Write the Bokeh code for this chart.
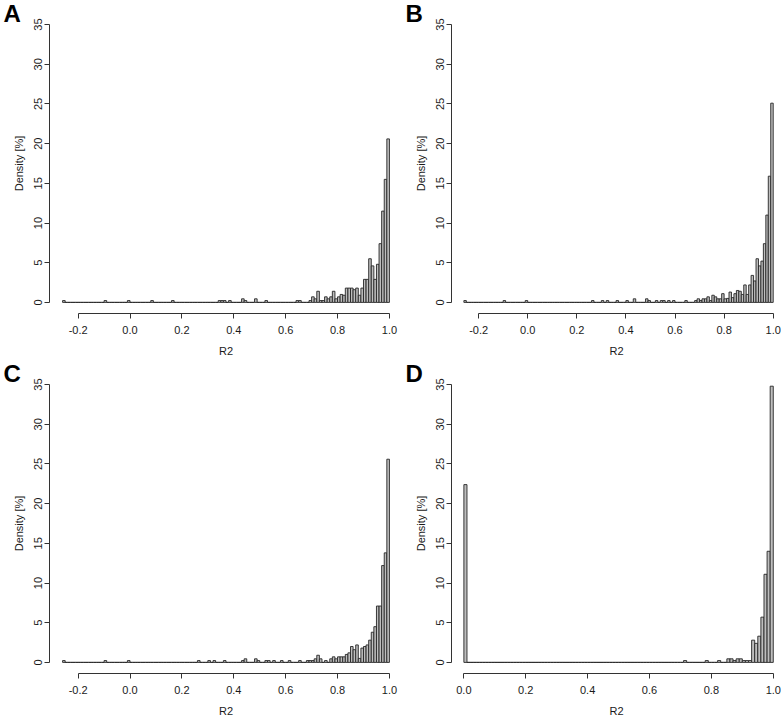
import numpy as np
from bokeh.plotting import figure
from bokeh.layouts import column, row
from bokeh.models import ColumnDataSource, FixedTicker, NumeralTickFormatter
from bokeh.embed import file_html
from bokeh.resources import INLINE

# ---------------- data (histograms of R2, bin width 0.01, density in %) ----------------
BIN = 0.01

a_start = -0.26
a_bins = [-0.26, -0.10, -0.01, 0.08, 0.16, 0.34, 0.35, 0.36, 0.38, 0.43, 0.44, 0.48, 0.52, 0.64, 0.65,
          0.69, 0.70, 0.71, 0.72, 0.73, 0.74, 0.75, 0.76, 0.77, 0.78, 0.79, 0.80, 0.81, 0.82, 0.83,
          0.84, 0.85, 0.86, 0.87, 0.88, 0.89, 0.90, 0.91, 0.92, 0.93, 0.94, 0.95, 0.96, 0.97, 0.98, 0.99]
a_pct = [0.23, 0.23, 0.23, 0.23, 0.23, 0.23, 0.23, 0.23, 0.23, 0.45, 0.23, 0.45, 0.23, 0.23, 0.23,
         0.23, 0.7, 0.45, 1.4, 0.23, 0.23, 0.7, 0.45, 0.7, 1.4, 0.45, 0.7, 1.0, 0.9, 1.8,
         1.8, 1.8, 1.6, 1.8, 0.9, 1.8, 2.9, 2.9, 5.5, 4.6, 2.9, 4.8, 7.4, 11.5, 15.5, 20.6]

b_start = -0.26
b_bins = [-0.26, -0.10, -0.01, 0.26, 0.30, 0.32, 0.36, 0.40, 0.43, 0.48, 0.49, 0.52, 0.54, 0.55, 0.57, 0.59,
          0.64, 0.68, 0.69, 0.70, 0.71, 0.72, 0.73, 0.74, 0.75, 0.76, 0.77, 0.78, 0.79, 0.80, 0.81,
          0.82, 0.83, 0.84, 0.85, 0.86, 0.87, 0.88, 0.89, 0.90, 0.91, 0.92, 0.93, 0.94, 0.95, 0.96,
          0.97, 0.98, 0.99]
b_pct = [0.23, 0.23, 0.23, 0.23, 0.23, 0.23, 0.23, 0.23, 0.45, 0.45, 0.23, 0.23, 0.23, 0.23, 0.23, 0.23,
         0.23, 0.23, 0.45, 0.23, 0.45, 0.45, 0.7, 0.23, 0.9, 0.7, 0.45, 0.45, 1.1, 0.45, 0.5,
         1.3, 0.6, 1.1, 1.5, 1.4, 1.0, 2.2, 1.0, 2.2, 3.4, 2.7, 5.5, 4.6, 5.2, 7.4,
         11.0, 15.9, 25.1]

c_start = -0.26
c_bins = [-0.26, -0.10, -0.01, 0.26, 0.30, 0.32, 0.36, 0.43, 0.44, 0.48, 0.49, 0.52, 0.53, 0.55, 0.58,
          0.61, 0.65, 0.68, 0.69, 0.70, 0.71, 0.72, 0.73, 0.75, 0.77, 0.78, 0.79, 0.80, 0.81, 0.82,
          0.83, 0.84, 0.85, 0.86, 0.87, 0.88, 0.89, 0.90, 0.91, 0.92, 0.93, 0.94, 0.95, 0.96, 0.97,
          0.98, 0.99]
c_pct = [0.23, 0.23, 0.23, 0.23, 0.23, 0.23, 0.23, 0.23, 0.45, 0.45, 0.23, 0.23, 0.23, 0.23, 0.23,
         0.23, 0.23, 0.23, 0.23, 0.23, 0.45, 0.9, 0.45, 0.23, 0.45, 0.7, 0.45, 0.7, 0.7, 0.7,
         1.0, 1.2, 2.0, 1.6, 2.2, 0.5, 1.8, 2.0, 2.2, 2.8, 3.8, 4.5, 7.1, 7.1, 12.2,
         13.8, 25.6]

d_start = 0.0
d_bins = [0.00, 0.71, 0.78, 0.82, 0.85, 0.86, 0.87, 0.88, 0.89, 0.90, 0.91, 0.92,
          0.93, 0.94, 0.95, 0.96, 0.97, 0.98, 0.99]
d_pct = [22.4, 0.23, 0.23, 0.23, 0.45, 0.45, 0.23, 0.45, 0.45, 0.23, 0.23, 0.23,
         2.8, 2.4, 3.3, 5.7, 11.1, 14.0, 34.8]

x_ticks_full = [-0.2, 0.0, 0.2, 0.4, 0.6, 0.8, 1.0]
x_ticks_unit = [0.0, 0.2, 0.4, 0.6, 0.8, 1.0]
y_ticks = [0, 5, 10, 15, 20, 25, 30, 35]

FONT = "Liberation Sans"
AXIS_COL = "#333333"
TEXT_COL = "#1a1a1a"
FILL = "#bebebe"
EDGE = "#262626"

Y0, Y1 = -1.4, 36.4


def hist_source(start, bins, pct):
    n = int(round((1.0 - start) / BIN))
    left = np.round(start + BIN * np.arange(n), 2)
    top = np.zeros(n)
    for b, v in zip(bins, pct):
        top[int(round((b - start) / BIN))] = v
    return ColumnDataSource(dict(left=left, right=left + BIN, top=top))


def panel(letter, start, bins, pct, x_range, xticks, width):
    p = figure(width=width, height=360, x_range=x_range, y_range=(Y0, Y1),
               output_backend="svg", toolbar_location=None,
               min_border_left=49, min_border_right=0, min_border_top=13,
               min_border_bottom=47)
    p.outline_line_color = None
    p.grid.visible = False
    p.background_fill_color = "white"
    p.border_fill_color = "white"

    # panel letter as a (non-clipped) title, pulled down into the top-left corner
    p.title.text = letter
    p.title.align = "left"
    p.title.offset = -46
    p.title.standoff = -26
    p.title.text_font = FONT
    p.title.text_font_size = "24px"
    p.title.text_font_style = "bold"
    p.title.text_color = "black"

    src = hist_source(start, bins, pct)
    p.quad(left="left", right="right", bottom=0, top="top", source=src,
           fill_color=FILL, line_color=EDGE, line_width=0.9)

    for ax in (p.xaxis[0], p.yaxis[0]):
        ax.axis_line_color = AXIS_COL
        ax.axis_line_width = 1
        ax.major_tick_line_color = AXIS_COL
        ax.major_tick_out = 5
        ax.major_tick_in = 0
        ax.minor_tick_line_color = None
        ax.major_label_text_font = FONT
        ax.major_label_text_font_size = "11px"
        ax.major_label_text_color = TEXT_COL
        ax.axis_label_text_font = FONT
        ax.axis_label_text_font_size = "11px"
        ax.axis_label_text_font_style = "normal"
        ax.axis_label_text_color = TEXT_COL

    xa = p.xaxis[0]
    xa.ticker = FixedTicker(ticks=xticks)
    xa.formatter = NumeralTickFormatter(format="0.0")
    xa.bounds = (xticks[0], xticks[-1])
    xa.axis_label = "R2"
    xa.major_label_standoff = 7
    xa.axis_label_standoff = 8

    ya = p.yaxis[0]
    ya.ticker = FixedTicker(ticks=y_ticks)
    ya.bounds = (0, 35)
    ya.axis_label = "Density [%]"
    ya.major_label_orientation = "vertical"
    ya.major_label_standoff = 2
    ya.axis_label_standoff = 7
    return p


XA = (-0.3104, 1.0504)
XB = (-0.3104, -0.3104 + 330 / 245.5)
XD = (-0.04, -0.04 + 330 / 309.4)

pa = panel("A", a_start, a_bins, a_pct, XA, x_ticks_full, 402)
pb = panel("B", b_start, b_bins, b_pct, XB, x_ticks_full, 379)
pc = panel("C", c_start, c_bins, c_pct, XA, x_ticks_full, 402)
pd = panel("D", d_start, d_bins, d_pct, XD, x_ticks_unit, 379)

layout = column(row(pa, pb), row(pc, pd))
open("out.html", "w").write(file_html(layout, INLINE))
